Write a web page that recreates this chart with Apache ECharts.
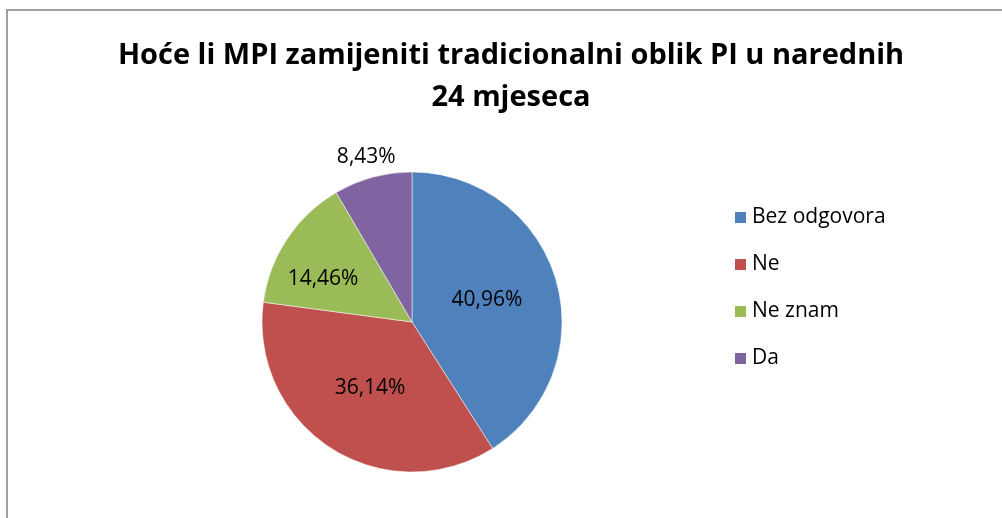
<!DOCTYPE html>
<html>
<head>
<meta charset="utf-8">
<script src="https://cdn.jsdelivr.net/npm/echarts@6/dist/echarts.min.js"></script>
<style>
  html, body { margin: 0; padding: 0; background: #fff; }
  #main { width: 1002px; height: 518px; }
</style>
</head>
<body>
<div id="main"></div>
<script>
var categories = ["Bez odgovora", "Ne", "Ne znam", "Da"];
var values = [40.96, 36.14, 14.46, 8.43];
var colors = ["#4f81bd", "#c0504d", "#9bbb59", "#8064a2"];

var chart = echarts.init(document.getElementById("main"));

var pieData = categories.map(function (name, i) {
  var item = { name: name, value: values[i], itemStyle: { color: colors[i] } };
  if (i === 2) {
    item.label = { offset: [-24, 0] };
  }
  if (i === 3) {
    // mali isječak - oznaka izvan
    item.label = { position: "outside", distanceToLabelLine: 0, offset: [24, -16] };
    item.labelLine = { show: false, length: 4, length2: 0 };
  }
  return item;
});

var option = {
  animation: false,
  graphic: [
    {
      type: "rect",
      shape: { x: 7, y: 10, width: 1100, height: 600 },
      style: { fill: "none", stroke: "#a0a0a0", lineWidth: 2 },
      silent: true
    }
  ],
  title: {
    text: "Hoće li MPI zamijeniti tradicionalni oblik PI u narednih\n24 mjeseca",
    left: 506,
    top: 30,
    textAlign: "center",
    textStyle: {
      fontFamily: "Open Sans",
      fontWeight: "bold",
      fontSize: 29,
      lineHeight: 42,
      color: "#000"
    }
  },
  legend: {
    orient: "vertical",
    left: 733,
    top: 207,
    padding: 0,
    itemWidth: 13,
    itemHeight: 13,
    itemGap: 26,
    icon: "rect",
    data: categories,
    textStyle: { fontFamily: "Open Sans", fontSize: 21, lineHeight: 20, color: "#000" }
  },
  series: [
    {
      type: "pie",
      center: [412, 322],
      radius: 150,
      startAngle: 90,
      clockwise: true,
      data: pieData,
      itemStyle: { borderColor: "#fff", borderWidth: 0.5 },
      label: {
        show: true,
        position: "inside",
        formatter: function (p) {
          return p.value.toFixed(2).replace(".", ",") + "%";
        },
        fontFamily: "Open Sans",
        fontSize: 21,
        color: "#000"
      },
      labelLine: { show: false },
      emphasis: { disabled: true }
    }
  ]
};

chart.setOption(option);
</script>
</body>
</html>
